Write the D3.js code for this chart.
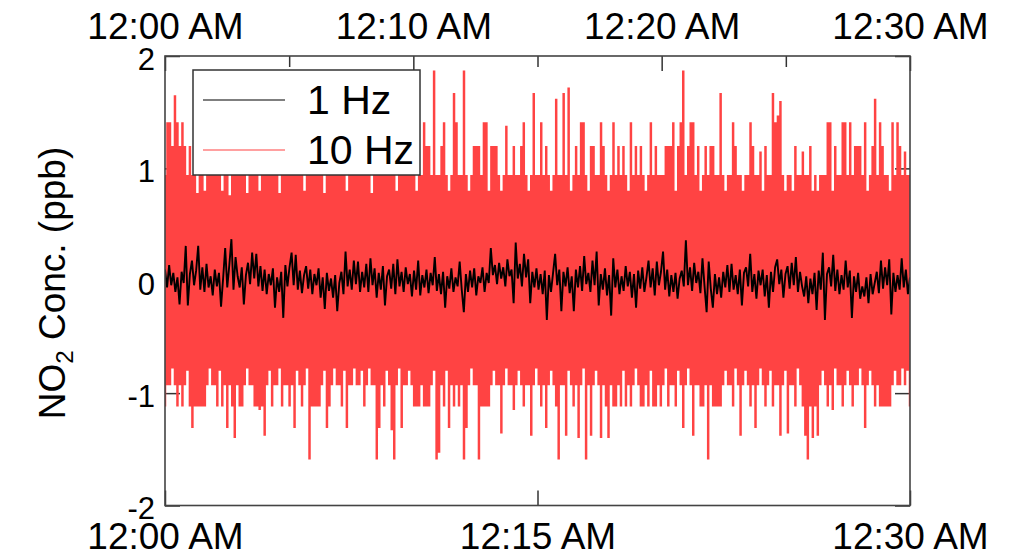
<!DOCTYPE html>
<html>
<head>
<meta charset="utf-8">
<script src="https://cdn.jsdelivr.net/npm/d3@7"></script>
<style>
  html, body { margin: 0; padding: 0; background: #fff; }
  svg { display: block; }
</style>
</head>
<body>
<div id="chart"></div>
<script>
// tick positions are minutes after midnight
var topTickMinutes = [0, 10, 20, 30];
var topTickLabels = ["12:00 AM", "12:10 AM", "12:20 AM", "12:30 AM"];
var topMinorMinutes = [5, 15, 25];
var bottomTickMinutes = [0, 15, 30];
var bottomTickLabels = ["12:00 AM", "12:15 AM", "12:30 AM"];
var yTicks = [-2, -1, 0, 1, 2];
var yTickLabels = ["-2", "-1", "0", "1", "2"];
var seriesNames = ["1 Hz", "10 Hz"];
var seriesColors = ["#000000", "#ff4343"];

// 1 Hz series (ppb), evenly spaced over 30 min
var oneHz = [
  0.1, -0.06, 0.14, -0.04, 0.07, -0.1, 0.03, -0.21, 0.08, -0.02, 0.31, -0.22,
  0.06, 0.18, -0.04, 0.09, 0.31, -0.08, 0.12, -0.1, 0.15, -0.06, 0.04, -0.13,
  0.1, -0.05, 0.07, -0.23, 0.02, 0.29, -0.06, 0.14, 0.37, -0.08, 0.21, 0.04,
  -0.06, 0.12, -0.21, 0.05, 0.16, -0.03, 0.25, 0.02, 0.24, -0.05, 0.13, -0.09,
  0.1, -0.12, 0.06, -0.04, 0.11, -0.24, 0.03, -0.1, 0.08, -0.33, 0.14, -0.05,
  0.12, 0.25, -0.04, 0.23, -0.08, 0.09, -0.11, 0.05, 0.13, -0.07, 0.1, -0.12,
  0.06, -0.04, 0.11, -0.15, 0.03, -0.25, 0.07, -0.09, 0.02, -0.15, 0.05, -0.27,
  -0.02, 0.08, -0.12, 0.26, -0.05, 0.1, -0.08, 0.18, -0.03, 0.17, -0.1, 0.08,
  -0.06, 0.15, -0.1, 0.2, -0.04, 0.11, -0.15, 0.07, -0.08, 0.13, -0.22, 0.04,
  0.1, -0.07, 0.15, -0.12, 0.19, -0.05, 0.08, -0.1, 0.12, -0.03, 0.06, -0.14,
  0.09, -0.08, 0.18, -0.13, 0.05, -0.06, 0.1, -0.11, 0.07, -0.04, 0.21, -0.09,
  0.06, -0.12, 0.08, -0.24, 0.04, -0.07, 0.11, -0.1, 0.03, -0.05, 0.17, -0.08,
  -0.28, 0.06, -0.1, 0.09, -0.06, 0.11, -0.13, 0.04, -0.02, 0.12, -0.1, 0.07,
  -0.02, 0.29, 0.05, 0.14, -0.03, 0.16, 0.02, 0.12, -0.05, 0.19, 0.04, 0.1,
  -0.2, 0.34, 0.02, 0.15, -0.05, 0.24, 0.03, 0.19, -0.2, 0.08, -0.06, 0.11,
  -0.08, 0.06, -0.12, 0.09, -0.35, 0.05, -0.1, 0.07, 0.24, -0.04, 0.1, -0.27,
  0.08, -0.05, 0.12, -0.11, 0.04, -0.27, 0.1, -0.06, 0.13, -0.09, 0.22, -0.03,
  0.07, -0.1, 0.18, -0.04, 0.26, -0.22, 0.06, -0.08, 0.11, -0.13, 0.05, -0.31,
  0.2, -0.06, 0.1, -0.12, 0.04, -0.09, 0.13, -0.05, 0.08, -0.15, 0.06, -0.24,
  0.09, -0.07, 0.12, -0.1, 0.03, 0.18, -0.06, 0.11, -0.13, 0.17, -0.04, 0.08,
  0.26, -0.08, 0.1, -0.14, 0.05, -0.1, 0.07, -0.16, 0.02, 0.09, -0.05, 0.36,
  -0.04, 0.12, -0.09, 0.16, -0.02, 0.08, -0.11, 0.2, -0.05, -0.28, 0.17, -0.07,
  -0.24, 0.06, -0.12, 0.03, -0.15, 0.08, -0.06, 0.14, -0.1, 0.15, -0.08, 0.05,
  -0.12, 0.1, -0.22, 0.07, 0.12, -0.05, 0.24, -0.1, 0.06, -0.16, 0.09, -0.04,
  0.1, -0.14, 0.05, -0.24, 0.08, -0.1, 0.12, 0.19, -0.03, 0.1, -0.15, 0.06,
  0.13, -0.07, 0.16, -0.04, 0.21, -0.1, 0.08, -0.05, -0.14, 0.04, -0.2, 0.02,
  -0.12, 0.07, -0.26, 0.09, -0.08, 0.25, -0.35, 0.06, 0.12, -0.05, 0.23, -0.09,
  0.1, -0.12, 0.05, -0.08, 0.18, -0.06, 0.09, -0.33, 0.04, -0.1, 0.07, -0.16,
  -0.05, -0.14, 0.03, -0.2, 0.06, -0.12, -0.02, 0.08, -0.11, 0.18, -0.07, 0.12,
  -0.04, 0.19, -0.3, 0.07, -0.1, 0.05, -0.08, 0.2, -0.06, 0.1, -0.12, 0.03
];

// 10 Hz series, highest and lowest value in each of 300 time bins
var tenHzMax = [
  0.94, 1.41, 1.41, 1.2, 1.65, 1.41, 1.2, 1.41, 1.2, 0.94,
  1.2, 0.94, 0.94, 0.78, 0.94, 0.94, 0.8, 0.94, 0.94, 0.94,
  0.94, 0.94, 0.94, 0.8, 0.94, 0.94, 0.76, 0.94, 0.94, 1.2,
  0.94, 0.94, 0.94, 0.78, 0.94, 0.94, 0.94, 0.94, 0.8, 0.94,
  0.94, 1.2, 0.94, 0.94, 0.94, 0.94, 0.78, 0.94, 0.94, 0.94,
  0.94, 0.94, 1.2, 0.94, 0.94, 0.94, 0.8, 0.94, 0.94, 0.94,
  0.94, 0.94, 0.94, 0.94, 0.78, 0.94, 0.94, 1.2, 0.94, 0.94,
  0.94, 0.94, 0.94, 0.8, 0.94, 0.94, 0.94, 0.94, 0.94, 0.94,
  0.94, 0.94, 0.94, 0.78, 0.94, 0.94, 1.2, 0.94, 0.94, 0.94,
  0.94, 0.94, 0.94, 0.8, 0.94, 0.94, 0.94, 0.94, 0.94, 0.94,
  0.94, 0.8, 0.94, 0.94, 1.41, 1.2, 1.2, 0.94, 1.87, 0.94,
  0.94, 1.2, 1.41, 0.94, 0.8, 0.94, 1.67, 1.41, 0.94, 0.94,
  1.87, 0.94, 0.8, 0.94, 1.2, 1.2, 1.2, 0.94, 1.41, 1.41,
  0.8, 1.2, 1.2, 1.2, 0.94, 0.8, 0.94, 1.38, 0.94, 0.94,
  1.2, 0.94, 0.94, 1.2, 1.41, 0.94, 0.8, 0.94, 1.67, 0.94,
  0.94, 1.41, 0.94, 1.2, 0.94, 0.8, 0.94, 1.62, 0.94, 0.94,
  1.67, 0.94, 1.72, 0.8, 0.94, 1.2, 0.94, 1.41, 1.41, 0.94,
  0.8, 1.2, 1.2, 0.94, 0.94, 1.41, 1.2, 0.94, 0.8, 0.94,
  1.41, 0.94, 1.2, 0.94, 1.2, 0.94, 0.8, 1.41, 0.94, 1.2,
  0.94, 1.2, 0.94, 0.8, 0.94, 1.41, 0.94, 1.2, 0.94, 0.94,
  0.94, 1.2, 1.2, 1.2, 1.41, 0.8, 1.2, 1.41, 1.87, 0.94,
  1.2, 1.41, 1.41, 0.94, 1.2, 0.8, 0.94, 1.2, 0.94, 1.2,
  1.2, 0.94, 0.94, 1.67, 0.94, 0.8, 0.94, 0.94, 1.41, 1.2,
  0.94, 0.94, 0.8, 0.94, 0.94, 1.41, 1.2, 0.94, 0.94, 1.15,
  0.8, 1.2, 0.94, 0.94, 1.67, 1.41, 1.47, 1.6, 0.94, 0.8,
  0.94, 0.94, 0.8, 1.2, 0.94, 0.94, 1.15, 0.94, 0.94, 1.2,
  0.8, 0.94, 0.8, 0.94, 0.94, 0.94, 1.41, 1.41, 0.8, 1.2,
  0.94, 0.94, 1.41, 1.41, 0.94, 1.41, 0.94, 1.2, 1.2, 1.2,
  0.94, 1.41, 0.8, 0.94, 1.2, 1.62, 0.94, 1.41, 1.2, 0.94,
  0.94, 0.8, 1.41, 0.94, 1.41, 1.2, 0.94, 1.15, 0.94, 0.94
];
var tenHzMin = [
  -1.12, -0.93, -0.93, -0.78, -0.93, -1.12, -0.93, -1.12, -0.93, -0.8,
  -1.12, -1.31, -1.12, -1.12, -1.12, -1.12, -1.12, -0.93, -0.78, -0.93,
  -0.93, -1.12, -0.8, -1.12, -0.93, -1.31, -0.93, -1.12, -1.4, -0.93,
  -1.12, -1.12, -0.93, -0.78, -0.93, -0.93, -1.12, -1.12, -1.15, -1.12,
  -1.38, -0.93, -0.8, -1.12, -0.93, -0.93, -0.78, -1.12, -0.93, -0.93,
  -1.12, -0.93, -1.31, -0.8, -0.93, -1.12, -0.93, -0.78, -1.59, -1.12,
  -1.12, -1.12, -1.12, -0.93, -0.8, -1.31, -1.12, -0.93, -0.78, -0.93,
  -0.93, -1.12, -0.8, -1.31, -0.93, -0.93, -0.78, -0.93, -0.93, -0.8,
  -1.12, -0.93, -0.78, -0.93, -0.93, -1.59, -1.31, -0.93, -1.12, -0.8,
  -0.93, -1.33, -1.59, -0.93, -0.78, -1.31, -0.93, -0.93, -0.8, -0.93,
  -1.12, -1.12, -1.12, -0.93, -1.12, -1.12, -1.12, -0.93, -0.8, -1.59,
  -1.53, -0.93, -1.12, -0.8, -1.31, -0.93, -1.12, -0.93, -1.12, -0.93,
  -1.59, -1.31, -0.93, -0.78, -0.93, -0.93, -1.59, -1.12, -1.12, -1.12,
  -1.12, -0.93, -0.8, -0.93, -0.93, -1.36, -0.93, -0.78, -0.93, -0.93,
  -1.15, -0.93, -0.8, -0.93, -1.12, -0.93, -0.93, -1.38, -0.93, -0.78,
  -0.93, -1.12, -0.93, -1.31, -0.93, -0.8, -0.93, -1.12, -1.59, -0.93,
  -0.93, -1.38, -0.8, -0.93, -1.12, -0.93, -1.4, -0.93, -0.78, -1.59,
  -0.93, -1.38, -0.93, -0.8, -0.93, -1.4, -0.93, -1.12, -1.4, -0.93,
  -1.12, -1.12, -0.93, -1.12, -0.8, -1.12, -0.93, -1.12, -0.93, -0.78,
  -0.93, -1.12, -1.12, -0.93, -1.12, -0.8, -1.12, -1.12, -0.93, -1.12,
  -0.93, -0.78, -1.12, -0.93, -0.93, -1.12, -0.8, -0.93, -1.31, -0.93,
  -0.78, -0.93, -1.38, -0.93, -0.93, -1.12, -1.12, -0.93, -1.59, -0.93,
  -1.12, -1.12, -1.12, -1.12, -0.93, -0.8, -0.93, -0.93, -1.12, -0.78,
  -0.93, -1.38, -0.93, -0.8, -0.93, -1.12, -0.93, -1.31, -0.93, -0.78,
  -0.93, -1.12, -0.93, -0.8, -1.12, -0.93, -0.93, -1.38, -0.93, -0.8,
  -1.36, -0.93, -0.93, -1.12, -0.78, -0.93, -1.12, -1.38, -1.59, -1.12,
  -1.4, -1.12, -1.38, -0.93, -0.8, -0.93, -1.12, -0.93, -1.15, -0.78,
  -0.93, -0.93, -1.12, -0.93, -0.8, -0.93, -1.12, -0.93, -0.93, -0.78,
  -0.93, -1.31, -0.93, -0.8, -0.93, -1.12, -0.93, -1.12, -1.12, -1.12,
  -1.12, -1.12, -0.93, -0.8, -0.93, -0.93, -0.78, -0.93, -0.8, -1.12
];

function draw() {
    var w = 1018;
    var h = 556;
    var left = 165, right = 910, top = 56, bottom = 505.5;
    var font = "'Liberation Sans', Arial, sans-serif";

    var t0 = new Date(2000, 0, 1, 0, 0);
    function atMinute(m) { return new Date(+t0 + m * 60000); }
    // time of sample i when n samples span the 30 minutes
    function sampleTime(i, n) { return atMinute(30 * i / (n - 1)); }

    var x = d3.scaleTime()
        .domain([atMinute(0), atMinute(30)])
        .range([left, right]);
    var y = d3.scaleLinear()
        .domain([-2, 2])
        .range([bottom, top]);

    var svg = d3.select("#chart")
        .append("svg")
        .attr("width", w)
        .attr("height", h)
        .attr("font-family", font);

    svg.append("defs").append("clipPath")
        .attr("id", "plotArea")
        .append("rect")
        .attr("x", left).attr("y", top)
        .attr("width", right - left).attr("height", bottom - top);

    var tickStyle = function(g) {
        g.select(".domain").remove();
        g.selectAll(".tick line").attr("stroke", "#333").attr("stroke-width", 1.5);
        g.selectAll(".tick text").attr("fill", "#000");
        g.attr("font-family", font);
    };

    // y ticks on both sides
    svg.append("g")
        .attr("transform", "translate(" + left + ",0)")
        .call(d3.axisLeft(y).tickValues(yTicks).tickSizeInner(-15).tickSizeOuter(0)
            .tickPadding(10).tickFormat(function(d, i) { return yTickLabels[i]; }))
        .call(tickStyle)
        .attr("font-size", 31)
        .selectAll(".tick text").attr("dy", "0.43em");
    svg.append("g")
        .attr("transform", "translate(" + right + ",0)")
        .call(d3.axisRight(y).tickValues(yTicks).tickSizeInner(-15).tickSizeOuter(0).tickFormat(""))
        .call(tickStyle);

    var plot = svg.append("g").attr("clip-path", "url(#plotArea)");

    // 10 Hz: one filled step per bin, from the bin minimum up to the bin maximum
    var nTen = tenHzMax.length;
    var band = d3.area()
        .curve(d3.curveStep)
        .x(function(d, i) { return x(sampleTime(i, nTen)); })
        .y0(function(d, i) { return y(tenHzMin[i]); })
        .y1(function(d) { return y(d); });
    plot.append("path")
        .datum(tenHzMax)
        .attr("d", band)
        .attr("fill", seriesColors[1]);

    // 1 Hz line
    var line = d3.line()
        .x(function(d, i) { return x(sampleTime(i, oneHz.length)); })
        .y(function(d) { return y(d); });
    plot.append("path")
        .datum(oneHz)
        .attr("d", line)
        .attr("fill", "none")
        .attr("stroke", seriesColors[0])
        .attr("stroke-width", 1.9)
        .attr("stroke-linejoin", "bevel");

    // top time axis: labelled every 10 min, minor ticks between
    svg.append("g")
        .attr("transform", "translate(0," + top + ")")
        .call(d3.axisTop(x).tickValues(topTickMinutes.map(atMinute)).tickSizeInner(-15)
            .tickSizeOuter(0).tickPadding(17)
            .tickFormat(function(d, i) { return topTickLabels[i]; }))
        .call(tickStyle)
        .attr("font-size", 37);
    svg.append("g")
        .attr("transform", "translate(0," + top + ")")
        .call(d3.axisTop(x).tickValues(topMinorMinutes.map(atMinute)).tickSizeInner(-11)
            .tickSizeOuter(0).tickFormat(""))
        .call(tickStyle);

    // bottom time axis: labelled every 15 min
    svg.append("g")
        .attr("transform", "translate(0," + bottom + ")")
        .call(d3.axisBottom(x).tickValues(bottomTickMinutes.map(atMinute)).tickSizeInner(-15)
            .tickSizeOuter(0).tickPadding(17)
            .tickFormat(function(d, i) { return bottomTickLabels[i]; }))
        .call(tickStyle)
        .attr("font-size", 37);

    // frame
    svg.append("rect")
        .attr("x", left).attr("y", top)
        .attr("width", right - left).attr("height", bottom - top)
        .attr("fill", "none")
        .attr("stroke", "#444")
        .attr("stroke-width", 1.6);

    // y axis title with subscript
    var title = svg.append("text")
        .attr("transform", "translate(65," + 283 + ") rotate(-90)")
        .attr("text-anchor", "middle")
        .attr("font-size", 37)
        .attr("fill", "#000");
    title.append("tspan").text("NO");
    title.append("tspan").attr("font-size", 24).attr("dy", 8).text("2");
    title.append("tspan").attr("dy", -8).text(" Conc. (ppb)");

    // legend
    var legend = svg.append("g");
    legend.append("rect")
        .attr("x", 193).attr("y", 70)
        .attr("width", 227).attr("height", 105)
        .attr("fill", "#fff")
        .attr("stroke", "#333")
        .attr("stroke-width", 1.5);
    var rows = legend.selectAll("g.row")
        .data(seriesNames)
        .enter()
        .append("g")
        .attr("class", "row")
        .attr("transform", function(d, i) { return "translate(0," + (100 + i * 50) + ")"; });
    rows.append("line")
        .attr("x1", 203).attr("x2", 285)
        .attr("y1", 0).attr("y2", 0)
        .attr("stroke", function(d, i) { return seriesColors[i]; })
        .attr("stroke-width", 1.2);
    rows.append("text")
        .attr("x", 307)
        .attr("y", 14)
        .attr("font-size", 41)
        .attr("fill", "#000")
        .text(function(d) { return d; });
}

window.onload = draw;
</script>
</body>
</html>
